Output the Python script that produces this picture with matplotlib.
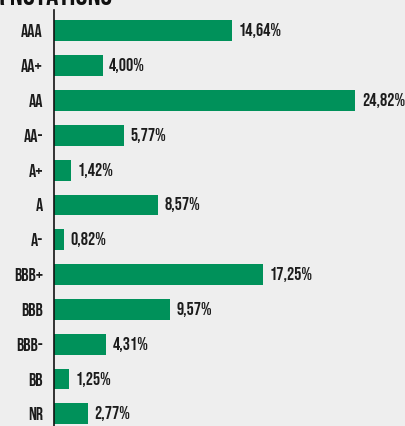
import matplotlib
matplotlib.use("Agg")
import matplotlib.pyplot as plt
from matplotlib import font_manager

# datos del grafico
notations = ["AAA", "AA+", "AA", "AA-", "A+", "A", "A-", "BBB+", "BBB", "BBB-", "BB", "NR"]
valeurs = [14.64, 4.00, 24.82, 5.77, 1.42, 8.57, 0.82, 17.25, 9.57, 4.31, 1.25, 2.77]
etiquettes = ["14,64%", "4,00%", "24,82%", "5,77%", "1,42%", "8,57%", "0,82%",
              "17,25%", "9,57%", "4,31%", "1,25%", "2,77%"]
titre = "RÉPARTITION PAR NOTATIONS"

# buscar una fuente estrecha instalada
noms = {f.name for f in font_manager.fontManager.ttflist}
police = "DejaVu Sans"
for nom in ["Bebas Neue", "Oswald", "Antonio", "Sofia Sans Extra Condensed"]:
    if nom in noms:
        police = nom
        break
plt.rcParams["font.family"] = [police, "DejaVu Sans"]

fond = "#eeeeee"
vert = "#00915a"
encre = "#1c1c1c"

fig = plt.figure(figsize=(4.06, 4.26), dpi=100, facecolor=fond)
ax = fig.add_axes([54 / 406, 0, 352 / 406, 416 / 426])
ax.set_facecolor(fond)

pos = list(range(len(notations)))
ax.barh(pos, valeurs, height=0.6, color=vert)
for p, v, t in zip(pos, valeurs, etiquettes):
    ax.text(v + 0.55, p, t, va="center", ha="left", fontsize=13, color=encre)

ax.set_xlim(0, 29.0)
ax.set_ylim(11.35, -0.60)
ax.set_yticks(pos)
ax.set_yticklabels(notations, fontsize=13, color=encre)
ax.set_xticks([])
ax.tick_params(axis="y", length=0, pad=8)
for s in ["top", "right", "bottom"]:
    ax.spines[s].set_visible(False)
ax.spines["left"].set_color("#111111")
ax.spines["left"].set_linewidth(1.2)

# titulo casi cortado arriba
fig.text(112 / 406, 1 - 5 / 426, titre, ha="right", va="baseline",
         fontsize=22, color="#111111")

fig.savefig("out.png", dpi=100, facecolor=fond)
